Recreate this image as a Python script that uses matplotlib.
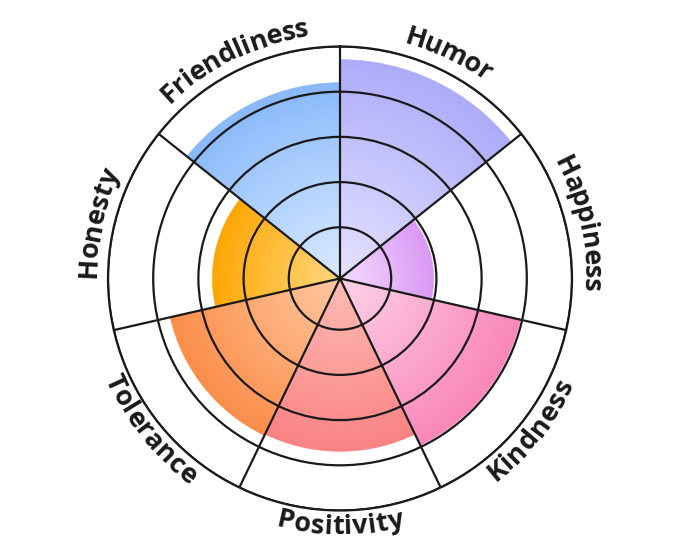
import numpy as np
import matplotlib.pyplot as plt
from matplotlib.colors import to_rgb
from matplotlib.font_manager import FontProperties, findfont, get_font

# categories clockwise from 12 o'clock
labels = ["Humor", "Happiness", "Kindness", "Positivity", "Tolerance", "Honesty", "Friendliness"]
values = [4.71, 1.94, 3.96, 3.69, 3.72, 2.69, 4.2]
inner_colors = ["#e6e3ff", "#f6dcff", "#fdd3e8", "#fdbcb4", "#ffc8a0", "#ffd87e", "#dbebff"]
outer_colors = ["#acabf9", "#d897f4", "#f985b8", "#fa8282", "#fb8c48", "#fda600", "#88b9fb"]
rings = [1, 2, 3, 4, 5]

R_MIN = -0.133
R_MAX = 5
STEPS = 60
R_PX = 232  # axes radius in pixels

fig = plt.figure(figsize=(6.8, 5.57), dpi=100)
ax = fig.add_axes([(340 - R_PX) / 680, (557 - 278.5 - R_PX) / 557, 2 * R_PX / 680, 2 * R_PX / 557],
                  projection="polar")
ax.set_theta_zero_location("N")
ax.set_theta_direction(-1)
ax.set_ylim(R_MIN, R_MAX)

n = len(labels)
width = 2 * np.pi / n
centers = np.arange(n) * width + width / 2

# radial gradient: stack thin bars from light to saturated
for th, v, c0, c1 in zip(centers, values, inner_colors, outer_colors):
    c0 = np.array(to_rgb(c0))
    c1 = np.array(to_rgb(c1))
    edges = np.linspace(R_MIN, v, STEPS + 1)
    for k in range(STEPS):
        t = (k + 0.5) / STEPS
        col = c0 + (c1 - c0) * t
        ax.bar(th, edges[k + 1] - edges[k], width=width, bottom=edges[k],
               color=col, edgecolor=col, linewidth=0.4, zorder=1)

ax.set_xticks(np.arange(n) * width)
ax.set_xticklabels([])
ax.set_yticks(rings)
ax.set_yticklabels([])
ax.grid(True, color="#1a1a1a", linewidth=1.6)
ax.set_axisbelow(False)
ax.spines["polar"].set_color("#1a1a1a")
ax.spines["polar"].set_linewidth(1.6)
ax.tick_params(length=0)

# curved labels, one glyph at a time
prop = FontProperties(family="Open Sans", weight="bold", size=19.5)
font = get_font(findfont(prop))
font.set_size(prop.get_size_in_points(), fig.dpi)


def advances(s):
    return np.array([font.load_char(ord(ch)).linearHoriAdvance / 65536 for ch in s])


for th, lab in zip(centers, labels):
    a0 = np.pi / 2 - th
    adv = advances(lab)
    mids = np.cumsum(adv) - adv / 2 - adv.sum() / 2
    flip = np.sin(a0) < -1e-6
    if flip:
        r_base = 256
        angs = a0 + mids / (r_base - 10)
        rots = np.degrees(angs) + 90
    else:
        r_base = 244
        angs = a0 - mids / (r_base + 10)
        rots = np.degrees(angs) - 90
    for ch, a, rot in zip(lab, angs, rots):
        x = 0.5 + r_base * np.cos(a) / (2 * R_PX)
        y = 0.5 + r_base * np.sin(a) / (2 * R_PX)
        ax.text(x, y, ch, transform=ax.transAxes, fontproperties=prop, color="#1a1a1a",
                ha="center", va="baseline", rotation=rot, rotation_mode="anchor", clip_on=False)

fig.savefig("out.png", dpi=100)
